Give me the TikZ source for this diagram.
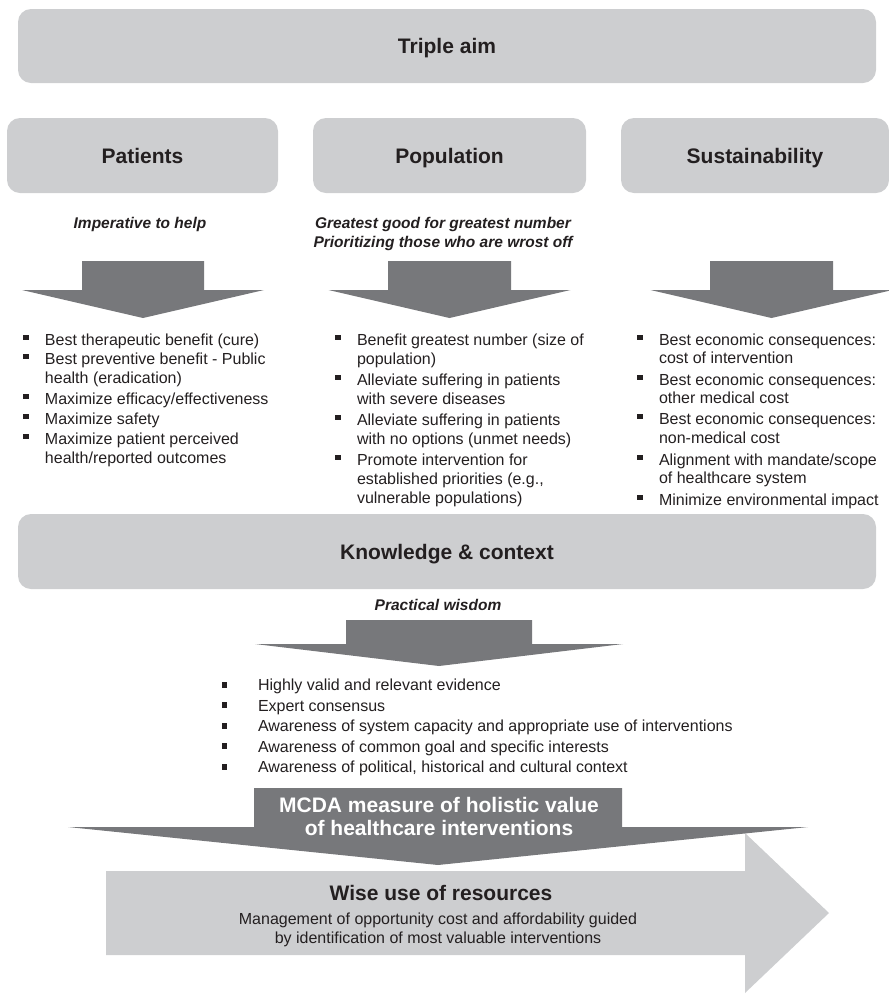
\documentclass[tikz,border=0pt]{standalone}
\usepackage{fontspec}
\setmainfont{Liberation Sans}
\definecolor{panelgray}{HTML}{CDCED0}
\definecolor{arrowgray}{HTML}{77787B}
\definecolor{ink}{HTML}{231F20}
\newcommand{\figtitle}{\fontsize{21}{25}\selectfont\bfseries}
\newcommand{\figmotto}{\fontsize{15.5}{19}\selectfont\bfseries\itshape}
\newcommand{\figitem}{\fontsize{16}{19}\selectfont}
\begin{document}
\begin{tikzpicture}[x=1pt,y=-1pt,
  every node/.style={inner sep=0pt,outer sep=0pt,text=ink},
  panel/.style={fill=panelgray,rounded corners=13pt,font=\figtitle,
    text height=15pt,text depth=0pt,minimum height=75pt},
  motto/.style={font=\figmotto,anchor=base},
  item/.style={font=\figitem,anchor=base west},
  headline/.style={font=\figtitle,anchor=base},
  pics/downblock/.style n args={4}{code={
    \fill[arrowgray] (-#1,0) -- (#1,0) -- (#1,#3) -- (#2,#3) -- (0,#3+#4)
      -- (-#2,#3) -- (-#1,#3) -- cycle;}}
]
\useasboundingbox (0,0) rectangle (889,994);
\clip (0,0) rectangle (889,994);

% top level panels
\node[panel,minimum width=858pt,minimum height=74pt] (triple) at (447,46) {Triple aim};
\node[panel,minimum width=271pt] (patients) at (142.5,155.5) {Patients};
\node[panel,minimum width=273pt] (population) at (449.5,155.5) {Population};
\node[panel,minimum width=268pt] (sustain) at (755,155.5) {Sustainability};

% guiding principles
\node[motto] (m-pat) at (140,228) {Imperative to help};
\node[motto] (m-pop1) at (443,228) {Greatest good for greatest number};
\node[motto] (m-pop2) at (443,247) {Prioritizing those who are wrost off};

% block arrows under the three panels
\pic at (143,261) {downblock={61}{121}{29}{28}};
\pic at (449.5,261) {downblock={61.5}{121}{29}{28}};
\pic at (771.5,261) {downblock={61.5}{121}{29}{28}};

% criteria lists
\foreach \yy/\bb/\itemtext [count=\i] in {
  345/1/Best therapeutic benefit (cure),
  364/1/Best preventive benefit - Public,
  383/0/health (eradication),
  404/1/{Maximize efficacy/effectiveness},
  424/1/Maximize safety,
  444/1/Maximize patient perceived,
  463/0/{health/reported outcomes}}{
  \node[item] (pat-\i) at (45,\yy) {\itemtext};
  \ifnum\bb=1 \fill[ink] (23,\yy-5) rectangle ++(6,-5.5); \fi
}
\foreach \yy/\bb/\itemtext [count=\i] in {
  345/1/Benefit greatest number (size of,
  364/0/population),
  385/1/Alleviate suffering in patients,
  404/0/with severe diseases,
  425/1/Alleviate suffering in patients,
  444/0/with no options (unmet needs),
  465/1/Promote intervention for,
  484/0/{established priorities (e.g.,},
  503/0/vulnerable populations)}{
  \node[item] (pop-\i) at (357,\yy) {\itemtext};
  \ifnum\bb=1 \fill[ink] (335,\yy-5) rectangle ++(6,-5.5); \fi
}
\foreach \yy/\bb/\itemtext [count=\i] in {
  345/1/Best economic consequences:,
  363/0/cost of intervention,
  385/1/Best economic consequences:,
  403/0/other medical cost,
  424/1/Best economic consequences:,
  443/0/non-medical cost,
  465/1/{Alignment with mandate/scope},
  483/0/of healthcare system,
  505/1/Minimize environmental impact}{
  \node[item] (sus-\i) at (659,\yy) {\itemtext};
  \ifnum\bb=1 \fill[ink] (637,\yy-5) rectangle ++(6,-5.5); \fi
}

% knowledge and context
\node[panel,minimum width=858pt] (knowledge) at (447,551.5) {Knowledge \& context};
\node[motto] (m-kc) at (438,610) {Practical wisdom};
\pic at (439,620) {downblock={93}{184}{24}{22}};

\foreach \yy/\itemtext [count=\i] in {
  690.5/Highly valid and relevant evidence,
  711/Expert consensus,
  731.5/Awareness of system capacity and appropriate use of interventions,
  752/Awareness of common goal and specific interests,
  772.5/{Awareness of political, historical and cultural context}}{
  \node[item] (kc-\i) at (258,\yy) {\itemtext};
  \fill[ink] (222,\yy-3) rectangle ++(5,-6);
}

% wise use of resources
\fill[panelgray] (106,871) -- (745,871) -- (745,833) -- (829,913)
  -- (745,993) -- (745,955) -- (106,955) -- cycle;
\node[headline] (wise) at (441,900) {Wise use of resources};
\node[font=\figitem,anchor=base] (wise-1) at (438,924)
  {Management of opportunity cost and affordability guided};
\node[font=\figitem,anchor=base] (wise-2) at (438,943)
  {by identification of most valuable interventions};

% MCDA arrow
\pic at (438,788) {downblock={184}{370}{39}{38}};
\node[headline,text=white] (mcda-1) at (439,812) {MCDA measure of holistic value};
\node[headline,text=white] (mcda-2) at (439,835) {of healthcare interventions};
\end{tikzpicture}
\end{document}
